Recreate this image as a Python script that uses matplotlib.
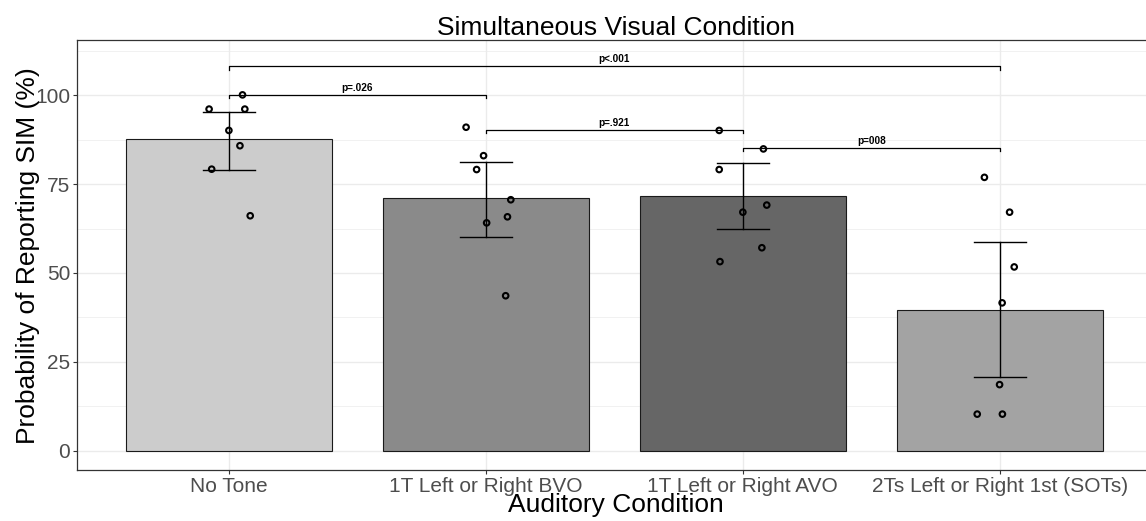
import matplotlib
matplotlib.use('Agg')
import matplotlib.pyplot as plt
import numpy as np

plt.rcParams['font.family'] = ['Liberation Sans', 'DejaVu Sans']

# Datos
condiciones = ['No Tone', '1T Left or Right BVO', '1T Left or Right AVO', '2Ts Left or Right 1st (SOTs)']
medias = [87.6, 71.1, 71.6, 39.5]
err_sup = [95.3, 81.1, 81.0, 58.7]
err_inf = [79.0, 60.2, 62.3, 20.8]
colores = ['#cccccc', '#8a8a8a', '#666666', '#a3a3a3']

# puntos individuales (valor y desplazamiento horizontal del jitter)
puntos = [
    [96.1, 96.1, 100.1, 90.1, 85.8, 79.2, 66.1],
    [91.0, 83.0, 79.1, 70.6, 65.8, 64.1, 43.6],
    [90.1, 84.9, 79.1, 69.1, 67.1, 57.1, 53.2],
    [76.9, 67.1, 51.7, 41.6, 18.6, 10.3, 10.3],
]
jitter = [
    [-0.077, 0.062, 0.053, 0.0, 0.043, -0.067, 0.083],
    [-0.077, -0.009, -0.036, 0.097, 0.084, 0.003, 0.077],
    [-0.092, 0.080, -0.092, 0.093, 0.0, 0.074, -0.089],
    [-0.060, 0.038, 0.056, 0.009, -0.001, -0.088, 0.010],
]

# comparaciones: (grupo a, grupo b, altura, etiqueta)
comparaciones = [
    (1, 4, 108.1, 'p<.001'),
    (1, 2, 100.0, 'p=.026'),
    (2, 3, 90.2, 'p=.921'),
    (3, 4, 85.1, 'p=008'),
]

fig = plt.figure(figsize=(11.46, 5.21), dpi=100)
ax = fig.add_axes([0.0672, 0.098, 0.9398, 0.8243])

x = np.arange(1, len(condiciones) + 1)
ax.bar(x, medias, width=0.8, color=colores, edgecolor='#1a1a1a', linewidth=0.8, zorder=2)

for i in range(len(condiciones)):
    ax.plot([x[i], x[i]], [err_inf[i], err_sup[i]], color='black', lw=1.0, zorder=3)
    ax.plot([x[i] - 0.1, x[i] + 0.1], [err_sup[i], err_sup[i]], color='black', lw=1.0, zorder=3)
    ax.plot([x[i] - 0.1, x[i] + 0.1], [err_inf[i], err_inf[i]], color='black', lw=1.0, zorder=3)
    ax.scatter(x[i] + np.array(jitter[i]), puntos[i], s=16, facecolors='none',
               edgecolors='black', linewidths=1.5, zorder=4)

for a, b, h, etiqueta in comparaciones:
    ax.plot([a, a, b, b], [h - 0.9, h, h, h - 0.9], color='black', lw=0.9, zorder=3)
    ax.text((a + b) / 2, h + 0.6, etiqueta, ha='center', va='bottom', fontsize=7.2,
            fontweight='bold', color='black')

ax.set_xlim(0.409, 4.6)
ax.set_ylim(-5.4, 115.4)
ax.set_xticks(x)
ax.set_xticklabels(condiciones)
ax.set_yticks([0, 25, 50, 75, 100])
ax.set_yticks([12.5, 37.5, 62.5, 87.5, 112.5], minor=True)
ax.tick_params(axis='both', which='major', labelsize=15, colors='#333333', length=3,
               labelcolor='#4d4d4d', pad=2)
ax.tick_params(axis='y', which='minor', length=0)

ax.grid(True, which='major', color='#ebebeb', lw=1.0, zorder=0)
ax.grid(True, which='minor', axis='y', color='#ebebeb', lw=0.5, zorder=0)
ax.set_axisbelow(True)
for s in ax.spines.values():
    s.set_color('#333333')
    s.set_linewidth(0.9)

ax.set_title('Simultaneous Visual Condition', fontsize=19, pad=3)
ax.set_xlabel('Auditory Condition', fontsize=19, labelpad=-2)
ax.set_ylabel('Probability of Reporting SIM (%)', fontsize=19, labelpad=-4)

plt.savefig('out.png', dpi=100)
